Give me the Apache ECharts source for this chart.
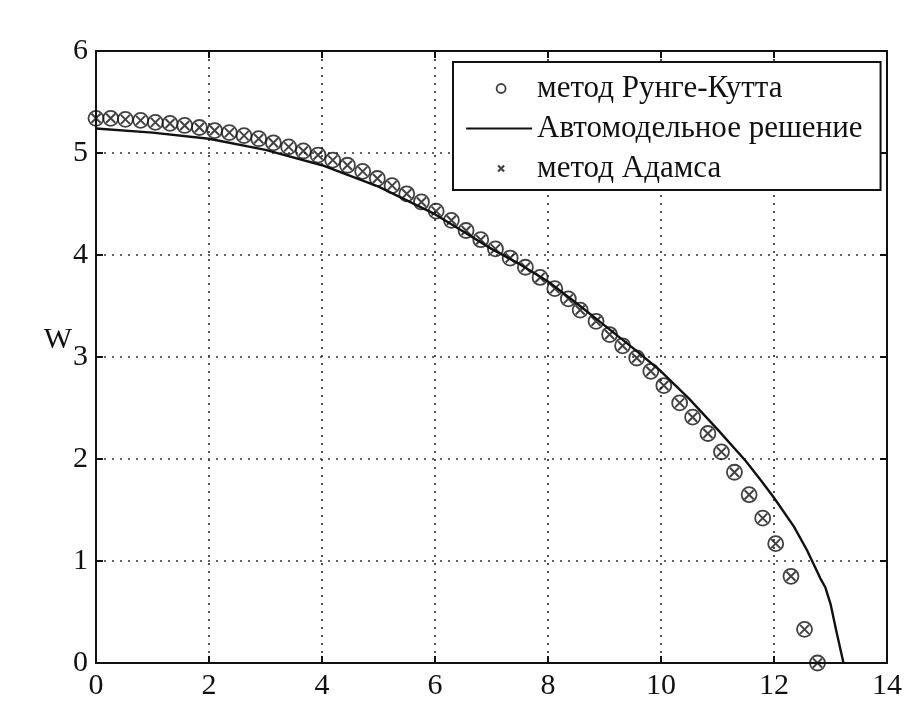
<!DOCTYPE html>
<html><head><meta charset="utf-8">
<script src="https://cdn.jsdelivr.net/npm/echarts@6/dist/echarts.min.js"></script>
<style>html,body{margin:0;padding:0;background:#fff}#c{width:905px;height:712px}</style>
</head><body><div id="c"></div>
<script>
// ---- data ----
const xTicks = [0, 2, 4, 6, 8, 10, 12, 14];
const yTicks = [0, 1, 2, 3, 4, 5, 6];
const yName = 'W';
const seriesNames = ['метод Рунге-Кутта', 'Автомодельное решение', 'метод Адамса'];

// Runge-Kutta (circles)
const rkX = [0, 0.26, 0.52, 0.79, 1.05, 1.31, 1.57, 1.83, 2.10, 2.36, 2.62, 2.88, 3.14, 3.41, 3.67, 3.93,
  4.19, 4.45, 4.72, 4.98, 5.24, 5.50, 5.76, 6.02, 6.29, 6.55, 6.81, 7.07, 7.33, 7.60, 7.86, 8.12,
  8.36, 8.57, 8.85, 9.09, 9.32, 9.57, 9.82, 10.05, 10.33, 10.56, 10.83, 11.07, 11.30, 11.56, 11.80,
  12.03, 12.30, 12.54, 12.77];
const rkW = [5.34, 5.34, 5.33, 5.32, 5.30, 5.29, 5.27, 5.25, 5.22, 5.20, 5.17, 5.14, 5.10, 5.06, 5.02, 4.98,
  4.93, 4.88, 4.82, 4.75, 4.68, 4.60, 4.52, 4.43, 4.34, 4.24, 4.15, 4.06, 3.97, 3.88, 3.78, 3.67,
  3.57, 3.46, 3.35, 3.22, 3.11, 2.99, 2.86, 2.72, 2.55, 2.41, 2.25, 2.07, 1.87, 1.65, 1.42,
  1.17, 0.85, 0.33, 0.00];

// Adams (crosses) - coincide with RK points
const adamsX = [0, 0.26, 0.52, 0.79, 1.05, 1.31, 1.57, 1.83, 2.10, 2.36, 2.62, 2.88, 3.14, 3.41, 3.67, 3.93,
  4.19, 4.45, 4.72, 4.98, 5.24, 5.50, 5.76, 6.02, 6.29, 6.55, 6.81, 7.07, 7.33, 7.60, 7.86, 8.12,
  8.36, 8.57, 8.85, 9.09, 9.32, 9.57, 9.82, 10.05, 10.33, 10.56, 10.83, 11.07, 11.30, 11.56, 11.80,
  12.03, 12.30, 12.54, 12.77];
const adamsW = [5.34, 5.34, 5.33, 5.32, 5.30, 5.29, 5.27, 5.25, 5.22, 5.20, 5.17, 5.14, 5.10, 5.06, 5.02, 4.98,
  4.93, 4.88, 4.82, 4.75, 4.68, 4.60, 4.52, 4.43, 4.34, 4.24, 4.15, 4.06, 3.97, 3.88, 3.78, 3.67,
  3.57, 3.46, 3.35, 3.22, 3.11, 2.99, 2.86, 2.72, 2.55, 2.41, 2.25, 2.07, 1.87, 1.65, 1.42,
  1.17, 0.85, 0.33, 0.00];

// Self-similar solution (solid line)
const ssX = [0, 1, 2, 3, 4, 5, 6, 6.5, 7, 7.5, 8, 8.5, 9, 9.5, 10, 10.5, 11, 11.5, 11.77, 12.0, 12.35, 12.58, 12.82, 12.91, 13.0, 13.1, 13.23];
const ssW = [5.24, 5.20, 5.14, 5.03, 4.88, 4.67, 4.40, 4.23, 4.06, 3.91, 3.74, 3.53, 3.31, 3.09, 2.86, 2.59, 2.29, 1.98, 1.79, 1.62, 1.34, 1.11, 0.83, 0.74, 0.58, 0.32, 0.00];

// ---- chart ----
const FONT = 'Liberation Serif';
const zip = (a, b) => a.map((v, i) => [v, b[i]]);
const chart = echarts.init(document.getElementById('c'), null, {renderer: 'canvas'});

const axisLineStyle = {color: '#111', width: 2};
const gridLine = {show: true, lineStyle: {color: '#333', width: 1.7, type: [2, 6]}};

chart.setOption({
  backgroundColor: '#fff',
  animation: false,
  grid: {left: 96, right: 12, top: 51, bottom: 49, containLabel: false},
  xAxis: [{
    type: 'value', min: xTicks[0], max: xTicks[xTicks.length - 1], interval: 2,
    axisLine: {show: true, onZero: false, lineStyle: axisLineStyle},
    axisTick: {show: true, inside: true, length: 7, lineStyle: axisLineStyle},
    axisLabel: {color: '#111', fontFamily: FONT, fontSize: 30, margin: 8},
    splitLine: gridLine
  }, {
    type: 'value', position: 'top', min: xTicks[0], max: xTicks[xTicks.length - 1], interval: 2,
    axisLine: {show: true, onZero: false, lineStyle: axisLineStyle},
    axisTick: {show: true, inside: true, length: 7, lineStyle: axisLineStyle},
    axisLabel: {show: false}, splitLine: {show: false}
  }],
  yAxis: [{
    type: 'value', min: yTicks[0], max: yTicks[yTicks.length - 1], interval: 1,
    axisLine: {show: true, onZero: false, lineStyle: axisLineStyle},
    axisTick: {show: true, inside: true, length: 7, lineStyle: axisLineStyle},
    axisLabel: {color: '#111', fontFamily: FONT, fontSize: 30, margin: 8},
    splitLine: gridLine,
    name: yName, nameLocation: 'middle', nameRotate: 0, nameGap: 24, nameMoveOverlap: false,
    nameTextStyle: {fontFamily: FONT, fontSize: 30, color: '#111', verticalAlign: 'bottom', align: 'right', padding: [0, 0, 2, 0]}
  }, {
    type: 'value', position: 'right', min: yTicks[0], max: yTicks[yTicks.length - 1], interval: 1,
    axisLine: {show: true, onZero: false, lineStyle: axisLineStyle},
    axisTick: {show: true, inside: true, length: 7, lineStyle: axisLineStyle},
    axisLabel: {show: false}, splitLine: {show: false}
  }],
  legend: {
    orient: 'vertical', left: 453, top: 62,
    padding: [11, 18, 6, 12], itemGap: 9, itemWidth: 66, itemHeight: 20,
    borderColor: '#111', borderWidth: 2, backgroundColor: '#fff',
    textStyle: {fontFamily: FONT, fontSize: 31, color: '#111'},
    data: [
      {name: seriesNames[0], icon: 'path://M0,0M66,20M39.5,10A4.5,4.5,0,1,1,30.5,10A4.5,4.5,0,1,1,39.5,10Z',
        itemStyle: {color: 'rgba(0,0,0,0)', borderColor: '#111', borderWidth: 1.8}},
      {name: seriesNames[1], icon: 'path://M0,0M66,20M0,9L66,9L66,11L0,11Z',
        itemStyle: {color: '#111', borderWidth: 0}},
      {name: seriesNames[2], icon: 'path://M0,0M66,20M32,7L38,13M38,7L32,13',
        itemStyle: {color: 'rgba(0,0,0,0)', borderColor: '#111', borderWidth: 2.2}}
    ]
  },
  series: [{
    name: seriesNames[0], type: 'scatter', data: zip(rkX, rkW),
    symbol: 'circle', symbolSize: 15,
    itemStyle: {color: 'rgba(0,0,0,0)', borderColor: '#111', borderWidth: 1.8}, z: 3
  }, {
    name: seriesNames[1], type: 'line', data: zip(ssX, ssW),
    showSymbol: false, symbol: 'none', smooth: false,
    lineStyle: {color: '#111', width: 2.4}, itemStyle: {color: '#111'}, z: 2
  }, {
    name: seriesNames[2], type: 'scatter', data: zip(adamsX, adamsW),
    symbol: 'path://M0,0L10,10M10,0L0,10', symbolSize: 9,
    itemStyle: {color: 'rgba(0,0,0,0)', borderColor: '#111', borderWidth: 2}, z: 4
  }]
});
</script>
</body></html>
